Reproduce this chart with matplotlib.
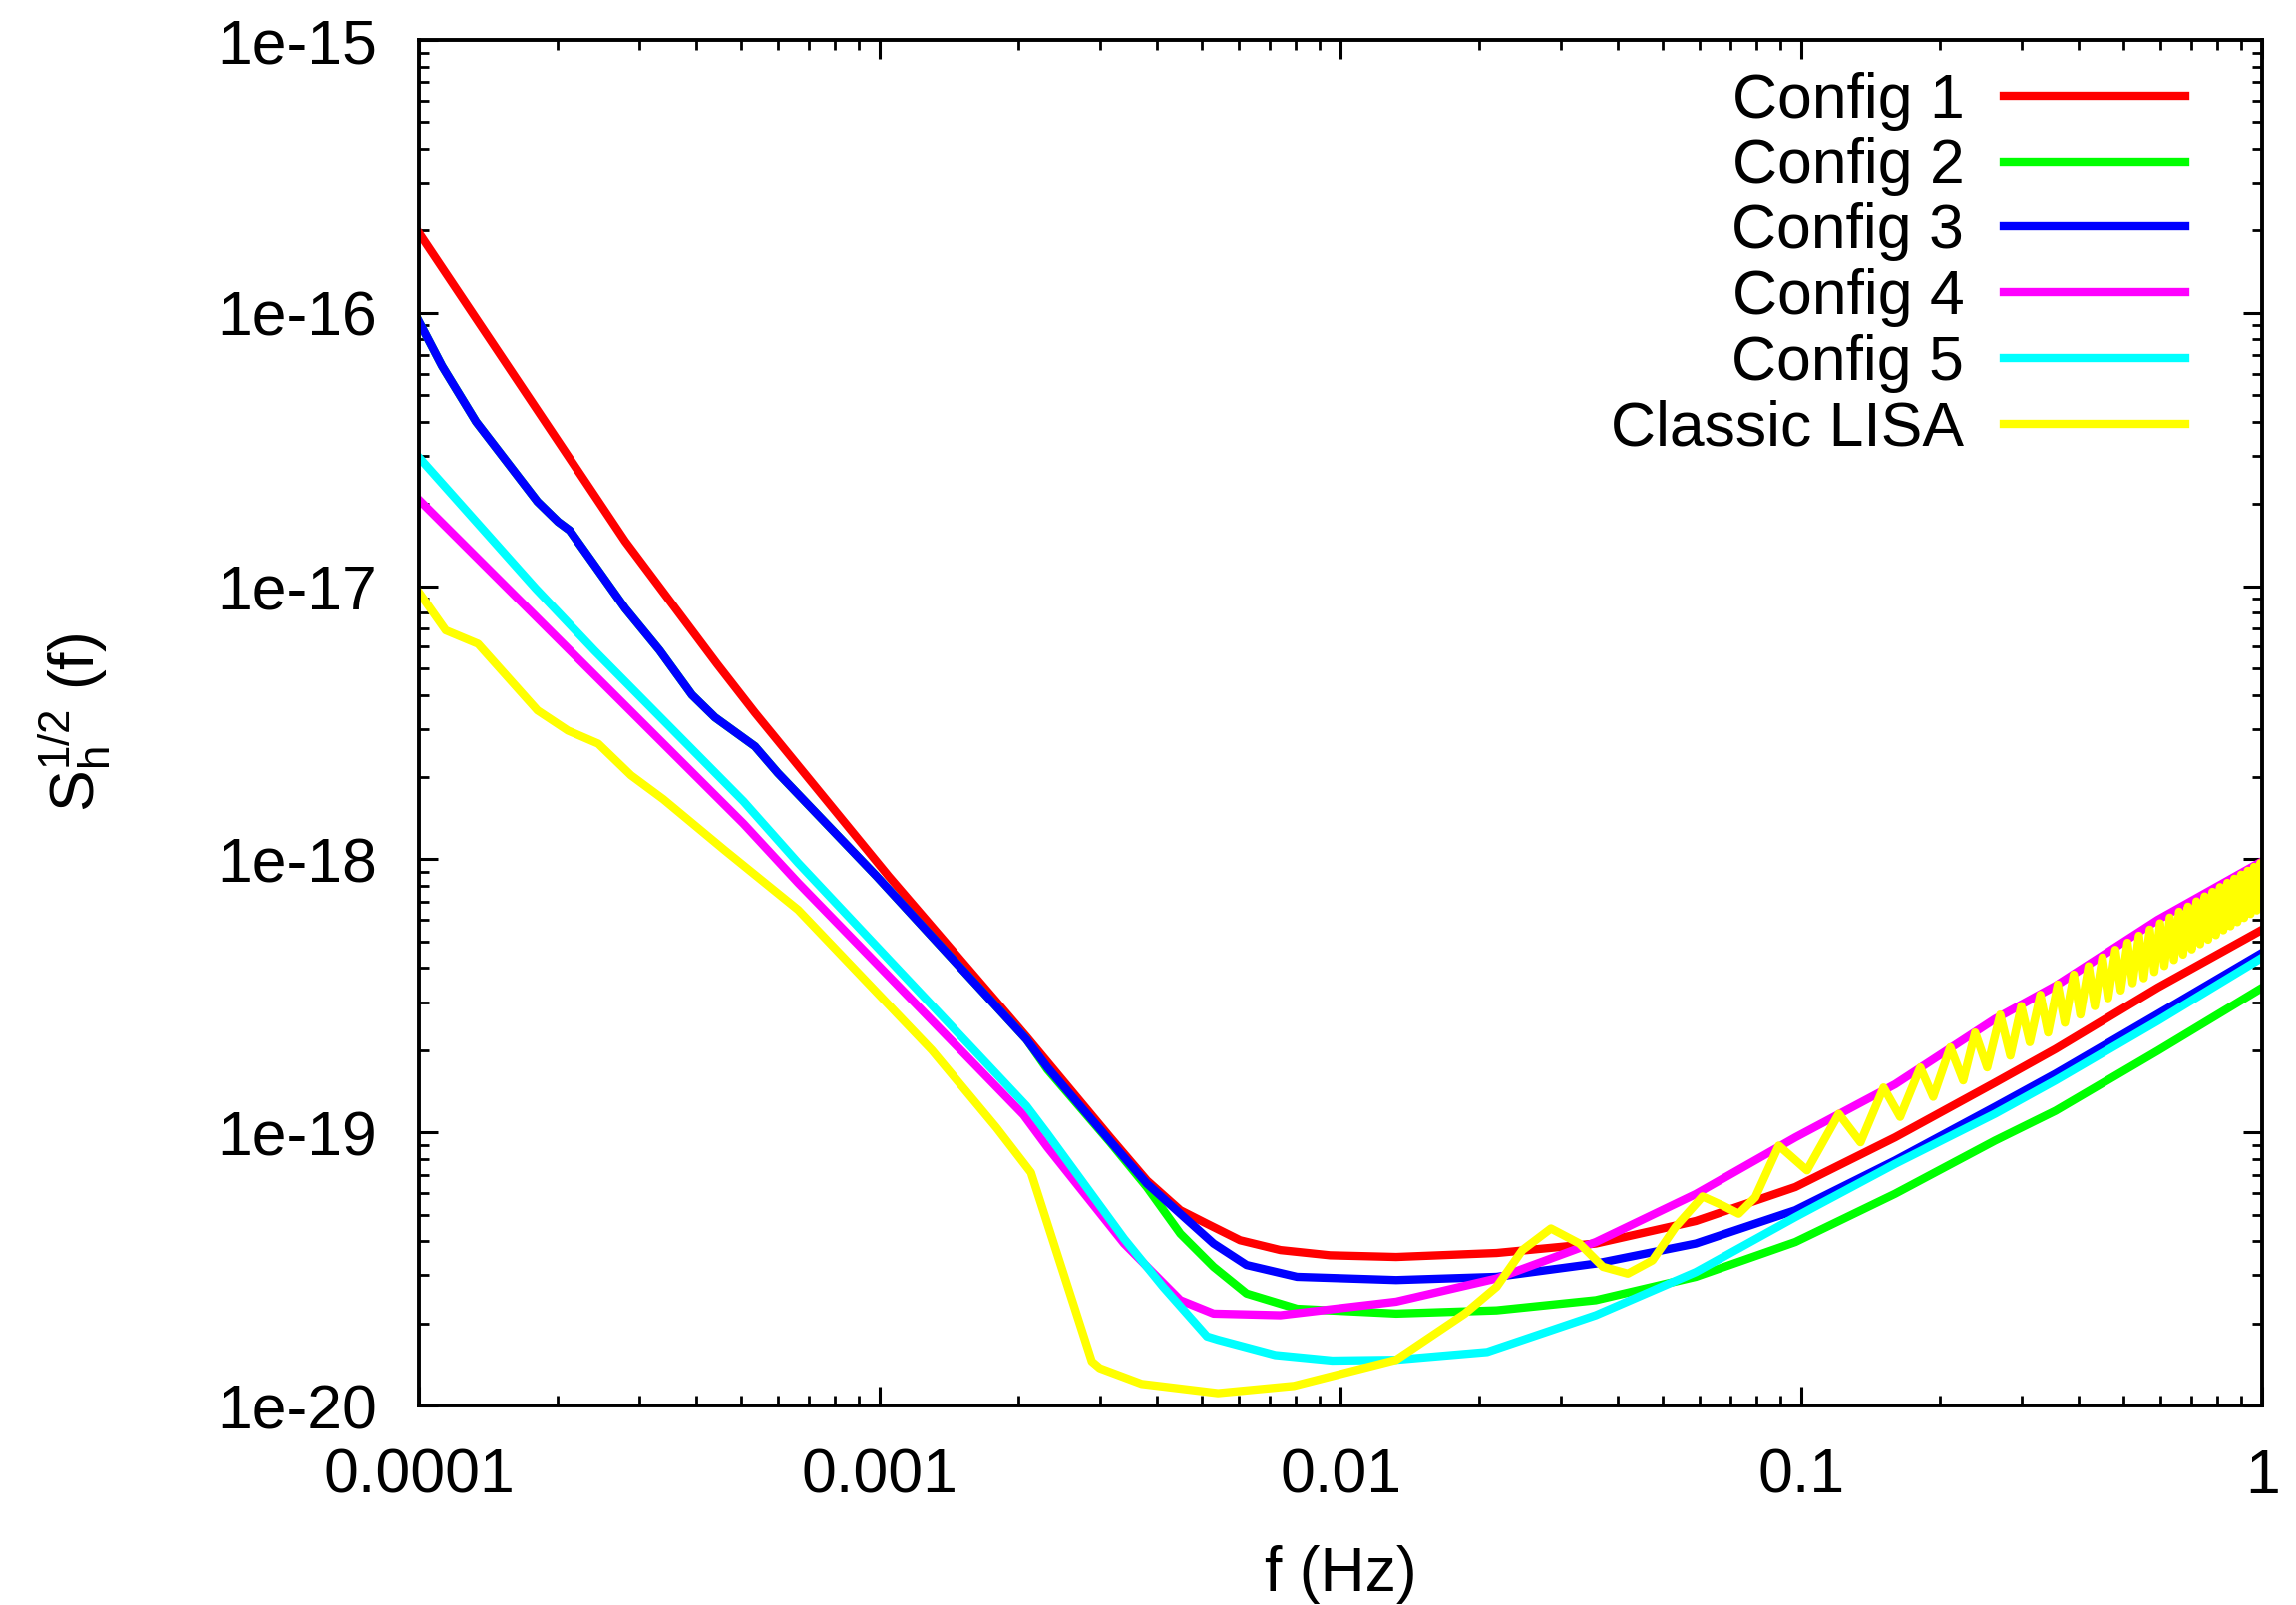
import matplotlib
matplotlib.use('Agg')
import matplotlib.pyplot as plt

plt.rcParams['font.family'] = ['Liberation Sans', 'DejaVu Sans']
plt.rcParams['mathtext.default'] = 'regular'

# Config 1 (red)
f1 = [1e-4, 2.80e-4, 4.43e-4, 5.36e-4, 1.045e-3, 2.08e-3, 3.16e-3, 3.80e-3,
      4.49e-3, 5.13e-3, 6.05e-3, 7.40e-3, 9.48e-3, 1.32e-2, 2.18e-2, 3.58e-2,
      5.90e-2, 9.70e-2, 0.1596, 0.263, 0.356, 0.593, 1.0]
s1 = [1.96e-16, 1.46e-17, 5.20e-18, 3.44e-18, 8.67e-19, 2.24e-19, 9.6e-20, 6.67e-20,
      5.19e-20, 4.63e-20, 4.03e-20, 3.71e-20, 3.55e-20, 3.50e-20, 3.62e-20, 3.92e-20,
      4.74e-20, 6.31e-20, 9.59e-20, 1.52e-19, 2.02e-19, 3.39e-19, 5.53e-19]

# Config 2 (green) - lies under config 3 at low f
f2 = [1e-4, 1.122e-4, 1.33e-4, 1.807e-4, 2.004e-4, 2.123e-4, 2.80e-4, 3.327e-4,
      3.91e-4, 4.385e-4, 5.36e-4, 6.01e-4, 9.84e-4, 2.08e-3, 2.31e-3, 3.16e-3,
      3.80e-3, 4.49e-3, 5.30e-3, 6.25e-3, 8.04e-3, 1.32e-2, 2.18e-2, 3.58e-2,
      5.90e-2, 9.70e-2, 0.1596, 0.263, 0.356, 0.593, 1.0]
s2 = [9.29e-17, 6.40e-17, 4.00e-17, 2.04e-17, 1.72e-17, 1.60e-17, 8.30e-18, 5.82e-18,
      4.00e-18, 3.31e-18, 2.59e-18, 2.07e-18, 8.67e-19, 2.19e-19, 1.70e-19, 9.2e-20,
      6.3e-20, 4.26e-20, 3.22e-20, 2.57e-20, 2.26e-20, 2.17e-20, 2.23e-20, 2.43e-20,
      2.96e-20, 3.97e-20, 5.96e-20, 9.33e-20, 1.20e-19, 1.99e-19, 3.39e-19]

# Config 3 (blue)
f3 = [1e-4, 1.122e-4, 1.33e-4, 1.807e-4, 2.004e-4, 2.123e-4, 2.80e-4, 3.327e-4,
      3.91e-4, 4.385e-4, 5.36e-4, 6.01e-4, 9.84e-4, 2.08e-3, 2.31e-3, 3.16e-3,
      3.80e-3, 4.49e-3, 5.30e-3, 6.25e-3, 8.04e-3, 1.32e-2, 2.18e-2, 3.58e-2,
      5.90e-2, 9.70e-2, 0.1596, 0.263, 0.356, 0.593, 1.0]
s3 = [9.29e-17, 6.40e-17, 4.00e-17, 2.04e-17, 1.72e-17, 1.60e-17, 8.30e-18, 5.82e-18,
      4.00e-18, 3.31e-18, 2.59e-18, 2.07e-18, 8.67e-19, 2.19e-19, 1.73e-19, 9.3e-20,
      6.5e-20, 5.04e-20, 3.92e-20, 3.27e-20, 2.96e-20, 2.88e-20, 2.96e-20, 3.31e-20,
      3.92e-20, 5.19e-20, 7.89e-20, 1.24e-19, 1.64e-19, 2.71e-19, 4.55e-19]

# Config 4 (magenta)
f4 = [1e-4, 5.06e-4, 6.65e-4, 2.05e-3, 2.31e-3, 3.39e-3, 4.49e-3, 5.30e-3,
      7.40e-3, 1.32e-2, 2.18e-2, 3.58e-2, 5.90e-2, 9.70e-2, 0.1596, 0.263,
      0.356, 0.593, 1.0]
s4 = [2.07e-17, 1.35e-18, 8.20e-19, 1.16e-19, 8.83e-20, 3.92e-20, 2.43e-20, 2.17e-20,
      2.14e-20, 2.40e-20, 2.92e-20, 3.97e-20, 5.95e-20, 9.59e-20, 1.50e-19, 2.60e-19,
      3.44e-19, 6.0e-19, 9.84e-19]

# Config 5 (cyan)
f5 = [1e-4, 1.79e-4, 2.40e-4, 5.06e-4, 6.65e-4, 2.08e-3, 2.31e-3, 3.39e-3,
      4.12e-3, 5.13e-3, 5.42e-3, 7.21e-3, 9.59e-3, 1.32e-2, 2.08e-2, 3.58e-2,
      5.90e-2, 9.70e-2, 0.1596, 0.263, 0.356, 0.593, 1.0]
s5 = [2.96e-17, 9.82e-18, 5.82e-18, 1.63e-18, 9.70e-19, 1.25e-19, 9.89e-20, 4.08e-20,
      2.72e-20, 1.79e-20, 1.74e-20, 1.53e-20, 1.46e-20, 1.47e-20, 1.57e-20, 2.14e-20,
      3.08e-20, 4.90e-20, 7.67e-20, 1.17e-19, 1.55e-19, 2.56e-19, 4.37e-19]

# Classic LISA (yellow)
f6 = [1e-4, 1.143e-4, 1.343e-4, 1.807e-4, 2.104e-4, 2.449e-4, 2.884e-4, 3.388e-4,
      4.603e-4, 6.65e-4, 1.297e-3, 1.791e-3, 2.128e-3, 2.884e-3, 3.0e-3, 3.70e-3,
      5.42e-3, 7.92e-3, 1.32e-2, 1.86e-2, 2.18e-2, 2.48e-2, 2.86e-2, 3.30e-2,
      3.71e-2, 4.20e-2, 4.75e-2, 5.33e-2, 6.10e-2, 6.73e-2, 7.31e-2, 7.94e-2,
      8.93e-2, 0.1028, 0.1205, 0.1343, 0.1507, 0.1637, 0.1811, 0.1932, 0.2104,
      0.2244, 0.2382, 0.253, 0.270, 0.284,
      0.300, 0.313, 0.330, 0.343, 0.360, 0.373, 0.390, 0.403, 0.420, 0.433,
      0.450, 0.463, 0.480, 0.493, 0.510, 0.523, 0.540, 0.553, 0.570, 0.583,
      0.600, 0.613, 0.630, 0.643, 0.660, 0.673, 0.690, 0.703, 0.720, 0.733,
      0.750, 0.763, 0.780, 0.793, 0.810, 0.823, 0.840, 0.853, 0.870, 0.883,
      0.900, 0.913, 0.930, 0.943, 0.960, 0.973, 0.990, 1.0]
s6 = [9.48e-18, 6.89e-18, 6.15e-18, 3.51e-18, 2.96e-18, 2.65e-18, 2.03e-18, 1.66e-18,
      1.08e-18, 6.53e-19, 2.00e-19, 1.04e-19, 7.13e-20, 1.45e-20, 1.37e-20, 1.20e-20,
      1.11e-20, 1.18e-20, 1.47e-20, 2.17e-20, 2.72e-20, 3.71e-20, 4.45e-20, 3.92e-20,
      3.22e-20, 3.04e-20, 3.40e-20, 4.51e-20, 5.83e-20, 5.41e-20, 5.04e-20, 5.79e-20,
      8.95e-20, 7.26e-20, 1.17e-19, 9.20e-20, 1.46e-19, 1.14e-19, 1.73e-19, 1.35e-19, 2.05e-19,
      1.55e-19, 2.32e-19, 1.73e-19, 2.70e-19, 1.91e-19,
      2.90e-19, 2.14e-19, 3.19e-19, 2.32e-19, 3.48e-19, 2.52e-19, 3.78e-19, 2.70e-19, 4.06e-19, 2.90e-19,
      4.37e-19, 3.10e-19, 4.66e-19, 3.31e-19, 4.95e-19, 3.52e-19, 5.25e-19, 3.67e-19, 5.53e-19, 3.87e-19,
      5.83e-19, 4.07e-19, 6.12e-19, 4.28e-19, 6.43e-19, 4.48e-19, 6.71e-19, 4.68e-19, 7.01e-19, 4.89e-19,
      7.31e-19, 5.08e-19, 7.60e-19, 5.28e-19, 7.91e-19, 5.50e-19, 8.20e-19, 5.69e-19, 8.49e-19, 5.89e-19,
      8.79e-19, 6.10e-19, 9.08e-19, 6.31e-19, 9.38e-19, 6.50e-19, 9.68e-19, 7.9e-19]

series = [
    (f1, s1, 'Config 1', '#ff0000'),
    (f2, s2, 'Config 2', '#00ff00'),
    (f3, s3, 'Config 3', '#0000ff'),
    (f4, s4, 'Config 4', '#ff00ff'),
    (f5, s5, 'Config 5', '#00ffff'),
    (f6, s6, 'Classic LISA', '#ffff00'),
]

xticks = [1e-4, 1e-3, 1e-2, 1e-1, 1]
xticklabels = ['0.0001', '0.001', '0.01', '0.1', '1']
yticks = [1e-20, 1e-19, 1e-18, 1e-17, 1e-16, 1e-15]
yticklabels = ['1e-20', '1e-19', '1e-18', '1e-17', '1e-16', '1e-15']

fig = plt.figure(figsize=(23.02, 16.09), dpi=100)
ax = fig.add_axes([0.1825, 0.1243, 0.8028, 0.8508])

for f, s, name, col in series:
    ax.plot(f, s, color=col, lw=6, label=name, solid_joinstyle='round')

ax.set_xscale('log')
ax.set_yscale('log')
ax.set_xlim(1e-4, 1)
ax.set_ylim(1e-20, 1e-15)
ax.set_xticks(xticks, xticklabels)
ax.set_yticks(yticks, yticklabels)
ax.xaxis.set_minor_formatter(plt.NullFormatter())
ax.yaxis.set_minor_formatter(plt.NullFormatter())

ax.tick_params(which='both', direction='in', top=True, right=True, labelsize=45)
ax.tick_params(which='major', length=14, width=2.2, pad=30)
ax.tick_params(which='minor', length=7, width=2.0)
for sp in ax.spines.values():
    sp.set_linewidth(2.8)

ax.set_xlabel('f (Hz)', fontsize=45, labelpad=28)
ax.set_ylabel(r'$S_h^{1/2}$ (f)', fontsize=45, labelpad=76)

leg = ax.legend(loc='upper right', bbox_to_anchor=(0.958, 0.977), frameon=False,
                fontsize=45, markerfirst=False, handlelength=2.9, handletextpad=0.64,
                labelspacing=0.11, borderpad=0, borderaxespad=0)

fig.savefig('out.png', dpi=100)
